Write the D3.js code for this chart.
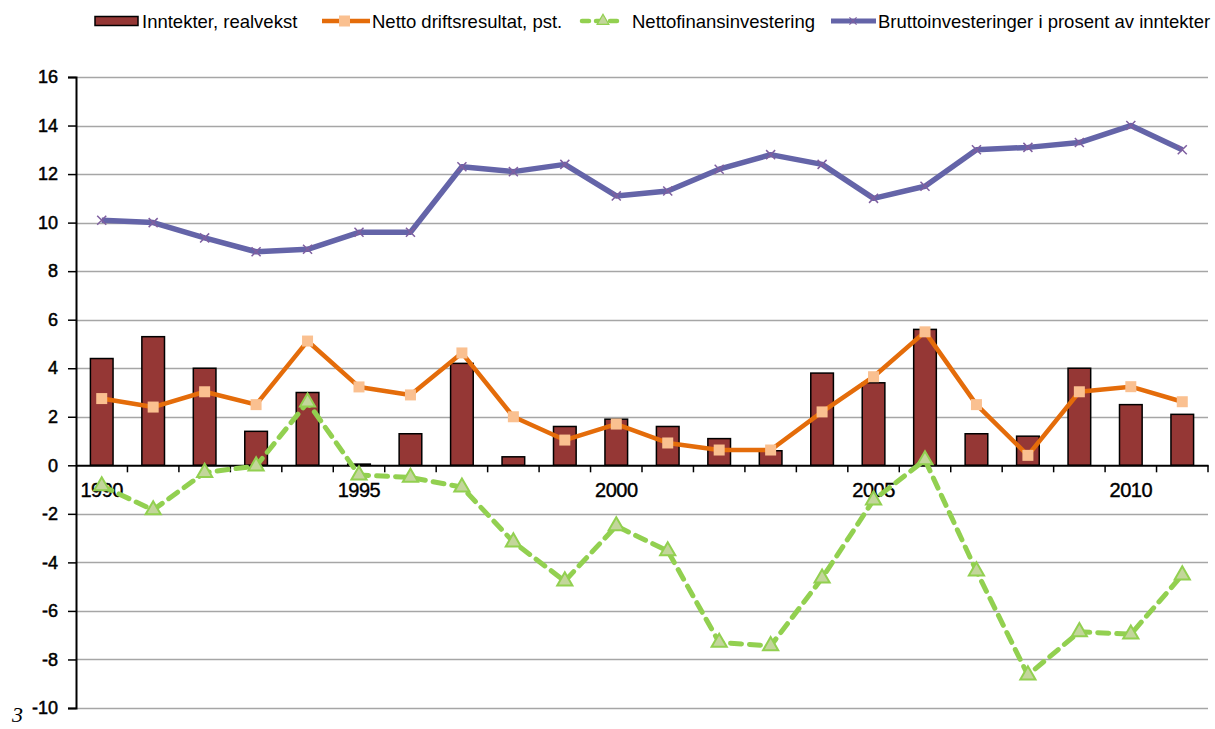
<!DOCTYPE html>
<html>
<head>
<meta charset="utf-8">
<script src="https://cdn.jsdelivr.net/npm/d3@7/dist/d3.min.js"></script>
<style>
  html, body { margin: 0; padding: 0; background: #fff; }
  svg { display: block; font-family: "Liberation Sans", Arial, sans-serif; }
</style>
</head>
<body>
<svg id="chart" width="1215" height="729"></svg>
<script>
const years = [1990,1991,1992,1993,1994,1995,1996,1997,1998,1999,2000,2001,2002,2003,2004,2005,2006,2007,2008,2009,2010,2011];
const yearLabels = [1990, 1995, 2000, 2005, 2010];
const yTicks = [-10,-8,-6,-4,-2,0,2,4,6,8,10,12,14,16];

const seriesNames = ["Inntekter, realvekst", "Netto driftsresultat, pst.", "Nettofinansinvestering", "Bruttoinvesteringer i prosent av inntekter"];

const inntekter = [4.4,5.3,4.0,1.4,3.0,0.05,1.3,4.2,0.35,1.6,1.9,1.6,1.1,0.6,3.8,3.4,5.6,1.3,1.2,4.0,2.5,2.1];
const nettoDrift = [2.75,2.4,3.03,2.5,5.12,3.23,2.9,4.63,2.0,1.04,1.7,0.92,0.63,0.63,2.2,3.65,5.5,2.5,0.41,3.03,3.24,2.62];
const nettoFinans = [-0.85,-1.84,-0.3,-0.03,2.6,-0.4,-0.5,-0.9,-3.16,-4.77,-2.5,-3.53,-7.3,-7.44,-4.65,-1.43,0.22,-4.36,-8.64,-6.86,-6.96,-4.52];
const brutto = [10.1,10.0,9.37,8.8,8.9,9.6,9.6,12.3,12.1,12.4,11.1,11.3,12.2,12.8,12.4,11.0,11.5,13.0,13.1,13.3,14.0,13.0];

const svg = d3.select("#chart");
const pLeft = 76, pRight = 1208, pTop = 77, pBottom = 708;

const x = d3.scaleBand().domain(years).range([pLeft, pRight]).paddingInner(0.56).paddingOuter(0.28);
const xb = d3.scaleBand().domain(years).range([pLeft, pRight]).padding(0);
const y = d3.scaleLinear().domain([-10, 16]).range([pBottom, pTop]);

// gridlines
svg.append("g").selectAll("line").data(yTicks.filter(t => t !== 0)).join("line")
  .attr("x1", pLeft).attr("x2", pRight)
  .attr("y1", d => Math.round(y(d)) + 0.5).attr("y2", d => Math.round(y(d)) + 0.5)
  .attr("stroke", "#a6a6a6").attr("stroke-width", 1.5);

// y axis
const yAxis = d3.axisLeft(y).tickValues(yTicks).tickSize(8).tickPadding(10).tickFormat(d => String(d));
const gy = svg.append("g").attr("transform", `translate(${pLeft},0)`).call(yAxis);
gy.select(".domain").attr("stroke", "#000").attr("stroke-width", 2);
gy.selectAll(".tick line").attr("stroke", "#000").attr("stroke-width", 1.5);
gy.selectAll(".tick text").attr("fill", "#000").attr("font-size", 18).attr("font-family", "Liberation Sans, Arial, sans-serif")
  .attr("stroke", "#000").attr("stroke-width", 0.5);

// bars
svg.append("g").selectAll("rect").data(years).join("rect")
  .attr("x", d => x(d))
  .attr("width", x.bandwidth())
  .attr("y", (d, i) => y(Math.max(0, inntekter[i])))
  .attr("height", (d, i) => Math.max(1, Math.abs(y(inntekter[i]) - y(0))))
  .attr("fill", "#953735").attr("stroke", "#000").attr("stroke-width", 1.5);

// zero axis
const xAxis = d3.axisBottom(xb).tickValues([]).tickSizeOuter(0);
const gx = svg.append("g").attr("transform", `translate(0,${y(0)})`).call(xAxis);
gx.select(".domain").attr("stroke", "#000").attr("stroke-width", 2);
svg.append("g").selectAll("line").data(years).join("line")
  .attr("x1", d => xb(d) + xb.bandwidth()).attr("x2", d => xb(d) + xb.bandwidth())
  .attr("y1", y(0)).attr("y2", y(0) + 7)
  .attr("stroke", "#000").attr("stroke-width", 1.5);

// year labels
svg.append("g").selectAll("text").data(yearLabels).join("text")
  .attr("x", d => xb(d) + xb.bandwidth() / 2)
  .attr("y", y(0) + 32)
  .attr("text-anchor", "middle").attr("font-size", 20).attr("fill", "#000")
  .attr("letter-spacing", -0.5)
  .attr("stroke", "#000").attr("stroke-width", 0.4)
  .text(d => d);

const px = i => xb(years[i]) + xb.bandwidth() / 2;
const line = d3.line().x((d, i) => px(i)).y(d => y(d));

// orange
svg.append("path").datum(nettoDrift).attr("d", line)
  .attr("fill", "none").attr("stroke", "#E46C0A").attr("stroke-width", 4.5).attr("stroke-linejoin", "round");
svg.append("g").selectAll("rect").data(nettoDrift).join("rect")
  .attr("x", (d, i) => px(i) - 5.5).attr("y", d => y(d) - 5.5)
  .attr("width", 11).attr("height", 11).attr("fill", "#FAC090");

// green
svg.append("path").datum(nettoFinans).attr("d", line)
  .attr("fill", "none").attr("stroke", "#92D050").attr("stroke-width", 5)
  .attr("stroke-dasharray", "11,8").attr("stroke-linecap", "round");
const tri = d3.symbol().type(d3.symbolTriangle).size(100);
svg.append("g").selectAll("path").data(nettoFinans).join("path")
  .attr("d", tri)
  .attr("transform", (d, i) => `translate(${px(i)},${y(d)})`)
  .attr("fill", "#C3D69B").attr("stroke", "#92D050").attr("stroke-width", 2);

// purple
svg.append("path").datum(brutto).attr("d", line)
  .attr("fill", "none").attr("stroke", "#6464A8").attr("stroke-width", 5.5).attr("stroke-linejoin", "round");
const cross = d3.symbol().type(d3.symbolX).size(55);
svg.append("g").selectAll("path").data(brutto).join("path")
  .attr("d", cross)
  .attr("transform", (d, i) => `translate(${px(i)},${y(d)})`)
  .attr("fill", "none").attr("stroke", "#7F5FA0").attr("stroke-width", 1.5);

// legend
const lg = svg.append("g");
const ly = 21;
const lfs = 18.5;
lg.append("rect").attr("x", 95).attr("y", ly - 4.5).attr("width", 43).attr("height", 9)
  .attr("fill", "#953735").attr("stroke", "#000").attr("stroke-width", 1.5);
lg.append("text").attr("x", 142).attr("y", ly + 7).attr("font-size", lfs).text(seriesNames[0]);
lg.append("line").attr("x1", 322).attr("x2", 370).attr("y1", ly).attr("y2", ly)
  .attr("stroke", "#E46C0A").attr("stroke-width", 4.5);
lg.append("rect").attr("x", 339).attr("y", ly - 5.5).attr("width", 11).attr("height", 11).attr("fill", "#FAC090");
lg.append("text").attr("x", 372).attr("y", ly + 7).attr("font-size", lfs).text(seriesNames[1]);
lg.append("line").attr("x1", 582).attr("x2", 624).attr("y1", ly).attr("y2", ly)
  .attr("stroke", "#92D050").attr("stroke-width", 4.5).attr("stroke-dasharray", "7,7").attr("stroke-linecap", "round");
lg.append("path").attr("d", d3.symbol().type(d3.symbolTriangle).size(60))
  .attr("transform", `translate(603,${ly})`).attr("fill", "#C3D69B").attr("stroke", "#92D050").attr("stroke-width", 1.2);
lg.append("text").attr("x", 632).attr("y", ly + 7).attr("font-size", lfs).text(seriesNames[2]);
lg.append("line").attr("x1", 831).attr("x2", 876).attr("y1", ly).attr("y2", ly)
  .attr("stroke", "#6464A8").attr("stroke-width", 5);
lg.append("path").attr("d", d3.symbol().type(d3.symbolX).size(35))
  .attr("transform", `translate(853,${ly})`).attr("fill", "none").attr("stroke", "#7F5FA0").attr("stroke-width", 1.2);
lg.append("text").attr("x", 878).attr("y", ly + 7).attr("font-size", lfs).text(seriesNames[3]);

// stray page number
svg.append("text").attr("x", 12).attr("y", 722).attr("font-size", 22)
  .attr("font-family", "Liberation Serif, serif").attr("font-style", "italic").text("3");
</script>
</body>
</html>
